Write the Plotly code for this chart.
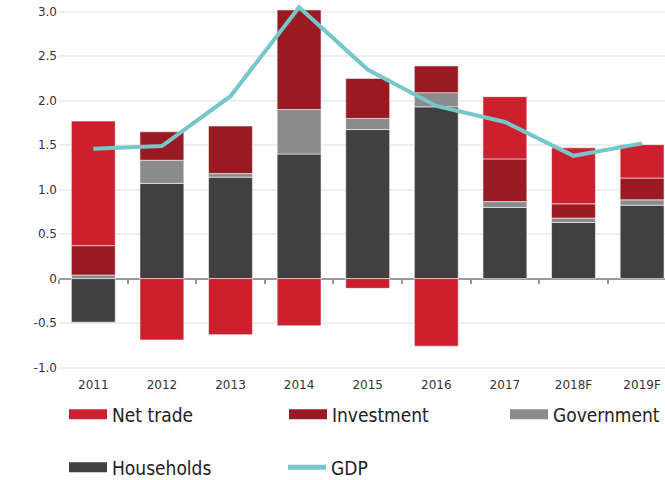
import plotly.graph_objects as go

years = ["2011", "2012", "2013", "2014", "2015", "2016", "2017", "2018F", "2019F"]
households = [-0.49, 1.07, 1.14, 1.40, 1.675, 1.93, 0.80, 0.63, 0.825]
government = [0.04, 0.26, 0.04, 0.50, 0.125, 0.16, 0.065, 0.05, 0.06]
investment = [0.33, 0.32, 0.535, 1.12, 0.45, 0.30, 0.48, 0.16, 0.245]
net_trade = [1.40, -0.69, -0.63, -0.53, -0.11, -0.76, 0.70, 0.63, 0.375]
gdp = [1.46, 1.49, 2.05, 3.05, 2.35, 1.94, 1.76, 1.38, 1.52]

ytick_vals = [-1.0, -0.5, 0, 0.5, 1.0, 1.5, 2.0, 2.5, 3.0]
ytick_text = ["-1.0", "-0.5", "0", "0.5", "1.0", "1.5", "2.0", "2.5", "3.0"]

C_NET = "#CD202F"
C_INV = "#991A23"
C_GOV = "#8B8B8B"
C_HH = "#404040"
C_GDP = "#76C7C9"

YMIN, YMAX = -1.05, 3.12
XR = [-0.5, 8.334]

fig = go.Figure()
outline = dict(color="rgba(255,255,255,0.55)", width=1)
for name, vals, col in [("Households", households, C_HH),
                        ("Government", government, C_GOV),
                        ("Investment", investment, C_INV),
                        ("Net trade", net_trade, C_NET)]:
    fig.add_trace(go.Bar(x=years, y=vals, name=name, marker=dict(color=col, line=outline),
                         showlegend=False, hoverinfo="x+y+name"))

fig.add_trace(go.Scatter(x=years, y=gdp, name="GDP", mode="lines", xaxis="x2",
                         line=dict(color=C_GDP, width=4), showlegend=False))

# legend entries (wide swatches like the original), one legend box per entry
leg_font = dict(family="DejaVu Sans Condensed, sans-serif", size=19, color="#222")
entries = [("Net trade", C_NET, "legend", 13, 69, 414.5),
           ("Investment", C_INV, "legend2", 13, 289, 414.5),
           ("Government", C_GOV, "legend3", 13, 510, 414.5),
           ("Households", C_HH, "legend4", 13, 69, 467.5),
           ("GDP", C_GDP, "legend5", 5, 288, 467.5)]
legends = {}
for name, col, lg, w, px, py in entries:
    fig.add_trace(go.Scatter(x=[None], y=[None], mode="lines", name=name,
                             line=dict(color=col, width=w), legend=lg, hoverinfo="skip"))
    legends[lg] = dict(orientation="h", x=(px - 5) / 665, xref="container", xanchor="left",
                       y=1 - py / 480, yref="container", yanchor="middle",
                       font=leg_font, bgcolor="rgba(0,0,0,0)", itemwidth=38)

tick_font = dict(family="DejaVu Sans, sans-serif", size=12, color="#333")

fig.update_layout(
    width=665, height=480,
    margin=dict(l=59, r=0, t=1, b=108, autoexpand=False),
    paper_bgcolor="white", plot_bgcolor="white",
    barmode="relative", bargap=0.36,
    xaxis=dict(type="category", categoryorder="array", categoryarray=years, range=XR,
               showgrid=False, zeroline=False, showline=False, ticks="",
               tickfont=tick_font, fixedrange=True, automargin=False,
               ticklabelstandoff=4),
    xaxis2=dict(type="category", categoryorder="array", categoryarray=years, range=XR,
                overlaying="x", anchor="free", position=(0 - YMIN) / (YMAX - YMIN),
                side="bottom", showgrid=False, zeroline=False, showline=False,
                ticks="outside", ticklen=4, tickwidth=1.5, tickcolor="#9a9a9a",
                tickson="boundaries", showticklabels=False, automargin=False),
    yaxis=dict(range=[YMIN, YMAX], tickvals=ytick_vals, ticktext=ytick_text,
               showgrid=True, gridcolor="#eeeeee", gridwidth=1.5,
               zeroline=True, zerolinecolor="#9a9a9a", zerolinewidth=2,
               showline=False, ticks="", ticklabelstandoff=1, tickfont=tick_font,
               automargin=False),
    **legends,
)

fig.write_html("out.html", config={"displayModeBar": False},
               post_script="document.body.style.margin='0';")
